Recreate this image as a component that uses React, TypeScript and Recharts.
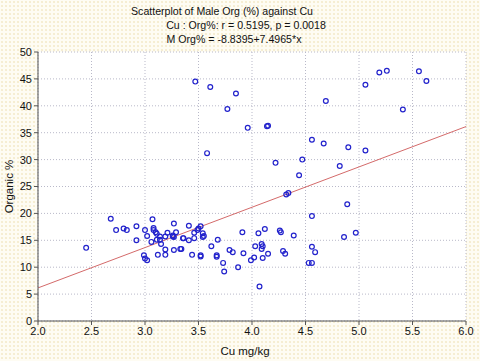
import { ScatterChart, Scatter, XAxis, YAxis, CartesianGrid, ReferenceLine, Label } from 'recharts';

// Cu (mg/kg) and organic % per sample
const cuValues = [
  3.47, 3.61, 3.85, 3.77, 3.96, 3.58, 4.14, 4.15, 5.19, 5.26,
  5.56, 5.63, 5.06, 4.69, 5.41, 4.56, 4.67, 4.9, 5.06, 4.22,
  4.47, 4.82, 4.44, 4.32, 4.34, 4.56, 4.89, 4.86, 4.97,
  3.41, 3.5, 3.49, 3.52, 3.46, 3.54, 3.55, 3.54, 3.91, 4.06,
  4.12, 4.26, 4.27, 4.39, 3.355, 3.41, 3.46, 3.68, 3.62, 3.34,
  3.44, 3.52, 3.52, 3.67, 3.67, 3.79, 3.82, 3.92, 4.03, 4.09,
  4.1, 4.09, 4.15, 4.02, 3.99, 4.1, 3.73, 3.87, 3.74, 4.07,
  4.29, 4.31, 4.56, 4.59, 4.53, 4.56,
  2.45, 2.68, 2.73, 2.8, 2.83, 2.92, 2.92, 3.0, 3.02, 2.99,
  3.0, 3.02, 3.07, 3.08, 3.08, 3.1, 3.11, 3.06, 3.11, 3.14,
  3.15, 3.14, 3.12, 3.19, 3.19, 3.21, 3.19, 3.26, 3.27, 3.29,
  3.26, 3.27, 3.27, 3.33, 3.36,
];
const orgValues = [
  44.5, 43.5, 42.3, 39.4, 35.9, 31.2, 36.2, 36.3, 46.2, 46.5,
  46.4, 44.6, 43.9, 40.9, 39.3, 33.7, 33.0, 32.3, 31.7, 29.4,
  30.0, 28.8, 27.1, 23.5, 23.8, 19.5, 21.7, 15.6, 16.4,
  17.7, 17.2, 16.9, 17.6, 16.4, 16.3, 15.8, 15.6, 16.5, 16.3,
  17.1, 16.8, 16.5, 15.9, 15.4, 15.0, 15.4, 15.1, 13.9, 13.4,
  12.3, 12.2, 12.0, 12.2, 11.95, 13.2, 12.8, 12.6, 13.9, 14.3,
  13.9, 13.4, 12.5, 11.8, 11.3, 11.7, 10.8, 10.0, 9.2, 6.4,
  13.0, 12.5, 13.8, 12.8, 10.8, 10.8,
  13.6, 19.0, 16.9, 17.2, 16.9, 17.6, 15.0, 16.9, 15.8, 12.2,
  11.6, 11.3, 18.9, 17.3, 16.9, 16.5, 16.2, 14.7, 15.1, 15.7,
  14.3, 15.1, 12.3, 13.3, 12.3, 16.4, 15.7, 15.9, 15.6, 16.5,
  15.7, 18.1, 13.2, 13.4, 15.4,
];

// M Org% = -8.8395 + 7.4965*x evaluated at the axis ends
const fitEnds = [
  { cu: 2.0, org: 6.15 },
  { cu: 6.0, org: 36.14 },
];

const xTicks = [2.0, 2.5, 3.0, 3.5, 4.0, 4.5, 5.0, 5.5, 6.0];
const yTicks = [0, 5, 10, 15, 20, 25, 30, 35, 40, 45, 50];
const xMinorTicks = Array.from({ length: 41 }, (_, i) => 2 + i * 0.1);
const yMinorTicks = Array.from({ length: 51 }, (_, i) => i);

const titleLines = [
  'Scatterplot of Male Org (%) against Cu',
  'Cu : Org%: r = 0.5195, p = 0.0018',
  'M Org% = -8.8395+7.4965*x',
];

const font = '"Liberation Sans", Arial, sans-serif';
const axisColor = '#555';

const Ring = (props: any) => {
  const { cx, cy } = props;
  if (cx == null || cy == null) return null;
  return <circle cx={cx} cy={cy} r={2.4} fill="none" stroke="#2222cc" strokeWidth={1.2} />;
};

export default function App() {
  const points = cuValues.map((cu, i) => ({ cu, org: orgValues[i] }));

  return (
    <div
      style={{
        position: 'absolute',
        left: 0,
        top: 0,
        width: 480,
        height: 361,
        fontFamily: font,
        backgroundColor: '#fefcf3',
        backgroundImage: 'radial-gradient(#f0e6c0 0.6px, transparent 0.9px)',
        backgroundSize: '4px 4px',
      }}
    >
      {titleLines.map((t, i) => (
        <div
          key={t}
          style={{
            position: 'absolute',
            top: [5, 19, 33][i],
            left: [222, 246, 234][i],
            transform: 'translateX(-50%)',
            whiteSpace: 'nowrap',
            fontSize: 10.6,
            color: '#111',
          }}
        >
          {t}
        </div>
      ))}
      <ScatterChart width={480} height={361} margin={{ top: 52, right: 14, bottom: 0, left: 0 }}>
        <CartesianGrid
          xAxisId="main"
          yAxisId="main"
          fill="#fff"
          stroke="#b9b9c9"
          strokeDasharray="1 2"
        />
        <XAxis
          xAxisId="main"
          dataKey="cu"
          type="number"
          domain={[2, 6]}
          ticks={xTicks}
          tickFormatter={(v: number) => v.toFixed(1)}
          height={40}
          tickSize={4}
          axisLine={{ stroke: axisColor }}
          tickLine={{ stroke: axisColor }}
          tick={{ fill: '#111', fontSize: 11, fontFamily: font }}
        >
          <Label value="Cu mg/kg" position="insideBottom" offset={6} dx={-7} style={{ fill: '#111', fontSize: 11.5, fontFamily: font }} />
        </XAxis>
        <XAxis
          xAxisId="top"
          orientation="top"
          type="number"
          domain={[2, 6]}
          allowDataOverflow
          ticks={xMinorTicks}
          tick={false}
          tickSize={3}
          mirror
          height={0}
          axisLine={{ stroke: axisColor }}
          tickLine={{ stroke: axisColor }}
        />
        <YAxis
          yAxisId="main"
          dataKey="org"
          type="number"
          domain={[0, 50]}
          ticks={yTicks}
          width={38}
          tickSize={4}
          axisLine={{ stroke: axisColor }}
          tickLine={{ stroke: axisColor }}
          tick={{ fill: '#111', fontSize: 11, fontFamily: font }}
        >
          <Label
            value="Organic %"
            angle={-90}
            position="insideLeft"
            offset={9}
            style={{ fill: '#111', fontSize: 11.5, fontFamily: font, textAnchor: 'middle' }}
          />
        </YAxis>
        <YAxis
          yAxisId="right"
          orientation="right"
          type="number"
          domain={[0, 50]}
          allowDataOverflow
          ticks={yMinorTicks}
          tick={false}
          tickSize={3}
          mirror
          width={0}
          axisLine={{ stroke: axisColor }}
          tickLine={{ stroke: axisColor }}
        />
        <ReferenceLine
          xAxisId="main"
          yAxisId="main"
          segment={fitEnds.map((p) => ({ x: p.cu, y: p.org }))}
          stroke="#d46a6a"
          strokeWidth={1}
          ifOverflow="visible"
        />
        <Scatter
          xAxisId="main"
          yAxisId="main"
          data={points}
          shape={Ring}
          isAnimationActive={false}
        />
      </ScatterChart>
    </div>
  );
}
